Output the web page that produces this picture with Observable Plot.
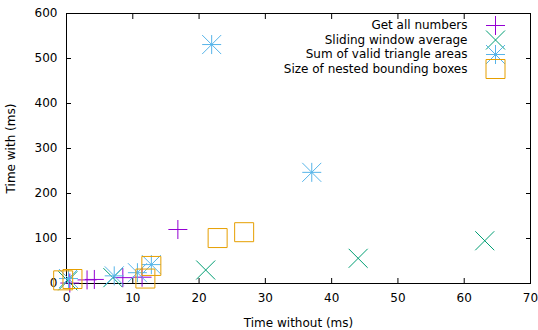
<!DOCTYPE html>
<html><head><meta charset="utf-8">
<script src="https://cdn.jsdelivr.net/npm/d3@7"></script>
<script src="https://cdn.jsdelivr.net/npm/@observablehq/plot@0.6"></script>
<style>body{margin:0;background:#fff} svg{display:block} #chart svg{font-family:"DejaVu Sans",sans-serif;font-size:12px}</style>
</head><body><div id="chart"></div>
<script>
const seriesNames = ["Get all numbers", "Sliding window average", "Sum of valid triangle areas", "Size of nested bounding boxes"];
const seriesColors = ["#9400d3", "#009e73", "#56b4e9", "#e69f00"];

const getAllX = [0.5, 3.1, 4.2, 8.5, 11.4, 16.8];
const getAllY = [1, 8, 9, 13, 14, 120];
const slidingX = [0.2, 7.0, 21.0, 44.0, 63.1];
const slidingY = [6, 13, 30, 56, 95];
const triangleX = [0.3, 7.2, 10.7, 12.8, 21.9, 37.0];
const triangleY = [11, 17, 24, 42, 531, 247];
const boxesX = [-0.5, 0.9, 11.9, 12.8, 22.8, 26.8];
const boxesY = [7, 10, 11, 39, 101, 114];

const xTicks = [0, 10, 20, 30, 40, 50, 60, 70];
const yTicks = [0, 100, 200, 300, 400, 500, 600];

// gnuplot-like point symbols
const symPlus = {draw(c, s) { const r = Math.sqrt(s / Math.PI); c.moveTo(-r, 0); c.lineTo(r, 0); c.moveTo(0, -r); c.lineTo(0, r); }};
const symTimes = {draw(c, s) { const r = Math.sqrt(s / Math.PI); c.moveTo(-r, -r); c.lineTo(r, r); c.moveTo(-r, r); c.lineTo(r, -r); }};
const symStar = {draw(c, s) { const r = Math.sqrt(s / Math.PI); c.moveTo(-r, 0); c.lineTo(r, 0); c.moveTo(0, -r); c.lineTo(0, r); c.moveTo(-r, -r); c.lineTo(r, r); c.moveTo(-r, r); c.lineTo(r, -r); }};
const symSquare = {draw(c, s) { const r = Math.sqrt(s / Math.PI); c.moveTo(-r, -r); c.lineTo(r, -r); c.lineTo(r, r); c.lineTo(-r, r); c.closePath(); }};
const symbols = [symPlus, symTimes, symStar, symSquare];

const seriesXs = [getAllX, slidingX, triangleX, boxesX];
const seriesYs = [getAllY, slidingY, triangleY, boxesY];
const rows = seriesXs.map((xs, i) => xs.map((x, j) => ({x, y: seriesYs[i][j]})));

const marks = [];
rows.forEach((data, i) => {
  marks.push(Plot.dot(data, {x: "x", y: "y", symbol: symbols[i], r: 9.5, stroke: seriesColors[i], strokeWidth: 1, fill: "none"}));
});
// legend (inside top-right, like gnuplot's key)
seriesNames.forEach((name, i) => {
  const dy = 12 + i * 14.5;
  marks.push(Plot.text([{label: name}], {text: "label", frameAnchor: "top-right", dx: -63, dy, textAnchor: "end", lineAnchor: "middle", fill: "#000", fontSize: 12}));
  marks.push(Plot.dot([{label: name}], {frameAnchor: "top-right", dx: -35, dy, symbol: symbols[i], r: 9.5, stroke: seriesColors[i], strokeWidth: 1, fill: "none"}));
});

const chart = Plot.plot({
  width: 538,
  height: 330,
  marginLeft: 66,
  marginRight: 8,
  marginTop: 13,
  marginBottom: 47,
  style: {fontFamily: "DejaVu Sans", fontSize: "12px", background: "#fff", color: "#000"},
  x: {domain: [0, 70], label: null},
  y: {domain: [0, 600], label: null},
  marks: [
    Plot.axisX({ticks: xTicks, tickSize: 0, tickPadding: 10, label: "Time without (ms)", labelAnchor: "center", labelArrow: "none", labelOffset: 43, fontSize: 12}),
    Plot.axisX({ticks: xTicks, anchor: "bottom", tickSize: -5, tickFormat: () => "", label: null}),
    Plot.axisX({ticks: xTicks, anchor: "top", tickSize: -5, tickFormat: () => "", label: null}),
    Plot.axisY({ticks: yTicks, tickSize: 0, tickPadding: 9, label: "Time with (ms)", labelAnchor: "center", labelArrow: "none", labelOffset: 60, fontSize: 12}),
    Plot.axisY({ticks: yTicks, anchor: "left", tickSize: -5, tickFormat: () => "", label: null}),
    Plot.axisY({ticks: yTicks, anchor: "right", tickSize: -5, tickFormat: () => "", label: null}),
    Plot.frame({stroke: "#000", strokeWidth: 1}),
    ...marks
  ]
});
document.getElementById("chart").append(chart);
</script>
</body></html>
